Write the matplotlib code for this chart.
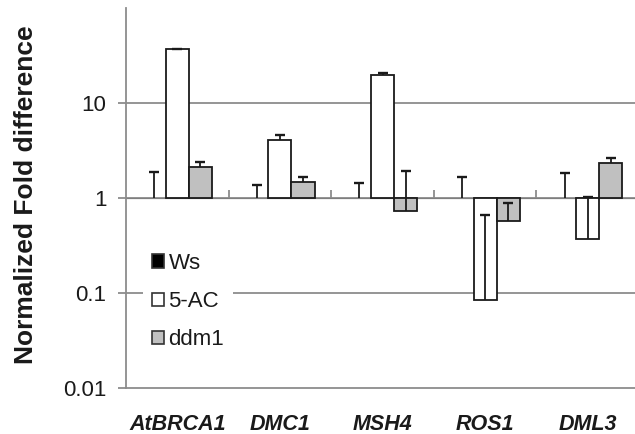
import matplotlib
matplotlib.use("Agg")
import matplotlib.pyplot as plt
from matplotlib.patches import Patch
import numpy as np

plt.rcParams['font.family'] = ['Liberation Sans', 'DejaVu Sans']

genes = ["AtBRCA1", "DMC1", "MSH4", "ROS1", "DML3"]
series = ["Ws", "5-AC", "ddm1"]
ws_vals = [1.0, 1.0, 1.0, 1.0, 1.0]
ws_err = [0.88, 0.38, 0.45, 0.68, 0.82]
ac_vals = [37.0, 4.04, 19.7, 0.085, 0.373]
ac_err = [0.3, 0.56, 1.0, 0.57, 0.65]
ddm_vals = [2.12, 1.48, 0.73, 0.567, 2.34]
ddm_err = [0.25, 0.2, 1.18, 0.31, 0.27]
yticks = [0.01, 0.1, 1, 10]
ytick_labels = ["0.01", "0.1", "1", "10"]

colors = ["#000000", "#ffffff", "#c0c0c0"]
edge_w = [0.0, 1.3, 1.3]
grid_c = "#8c8c8c"
ink = "#1a1a1a"

W, H = 635, 434
fig = plt.figure(figsize=(W / 100, H / 100), dpi=100)
ax = fig.add_axes([126 / W, (H - 387.7) / H, (639 - 126) / W, (387.7 - 8.3) / H])
ax.set_yscale('log')
ax.set_ylim(0.01, 100)
ax.set_xlim(0, len(genes))

x = np.arange(len(genes)) + 0.5
bw = 0.226
all_vals = [ws_vals, ac_vals, ddm_vals]
all_err = [ws_err, ac_err, ddm_err]
for i, (vals, errs) in enumerate(zip(all_vals, all_err)):
    xi = x + (i - 1) * bw
    v = np.array(vals)
    top = v + np.array(errs)
    ax.bar(xi, v - 1, bottom=1, width=bw, color=colors[i], edgecolor=ink,
           linewidth=edge_w[i], zorder=3)
    ax.vlines(xi, v, top, color=ink, linewidth=1.3, zorder=4)
    ax.plot(xi, top, linestyle='none', marker='_', markersize=7.5,
            markeredgewidth=1.7, color=ink, zorder=4)

for yv in [0.1, 1, 10]:
    ax.axhline(yv, color=grid_c, linewidth=1.3, zorder=1)

for s in ['top', 'right']:
    ax.spines[s].set_visible(False)
for s in ['left', 'bottom']:
    ax.spines[s].set_color(grid_c)
    ax.spines[s].set_linewidth(1.3)

ax.set_yticks(yticks)
ax.set_yticklabels(ytick_labels)
ax.yaxis.set_minor_locator(matplotlib.ticker.NullLocator())
ax.tick_params(axis='y', length=6, width=1.3, color=grid_c, labelsize=16, pad=8,
               labelcolor=ink)
ax.set_xticks(x)
ax.set_xticklabels(genes, fontweight='bold', fontstyle='italic', fontsize=15.5, color=ink)
ax.tick_params(axis='x', length=0, pad=19)

sec = ax.secondary_xaxis(0.5)
sec.set_xticks(np.arange(1, len(genes)))
sec.set_xticklabels([])
sec.tick_params(axis='x', length=6, width=1.3, color=grid_c, direction='out')
sec.spines['bottom'].set_visible(False)

ax.set_ylabel("Normalized Fold difference", fontsize=19, fontweight='bold', color=ink)
ax.yaxis.set_label_coords(-0.171, 0.508)

handles = [Patch(facecolor=c, edgecolor="#333333", linewidth=1.2) for c in colors]
leg = ax.legend(handles, series, loc='upper left', bbox_to_anchor=(0.033, 0.379),
                frameon=True, fontsize=16, handlelength=0.55, handleheight=0.55,
                handletextpad=0.2, labelspacing=0.78, borderpad=0.4, fancybox=False,
                borderaxespad=0)
for t in leg.get_texts():
    t.set_color(ink)
leg.get_frame().set_edgecolor('none')
leg.get_frame().set_facecolor('white')
leg.get_frame().set_alpha(1)
leg.set_zorder(5)

fig.savefig("out.png", dpi=100)
